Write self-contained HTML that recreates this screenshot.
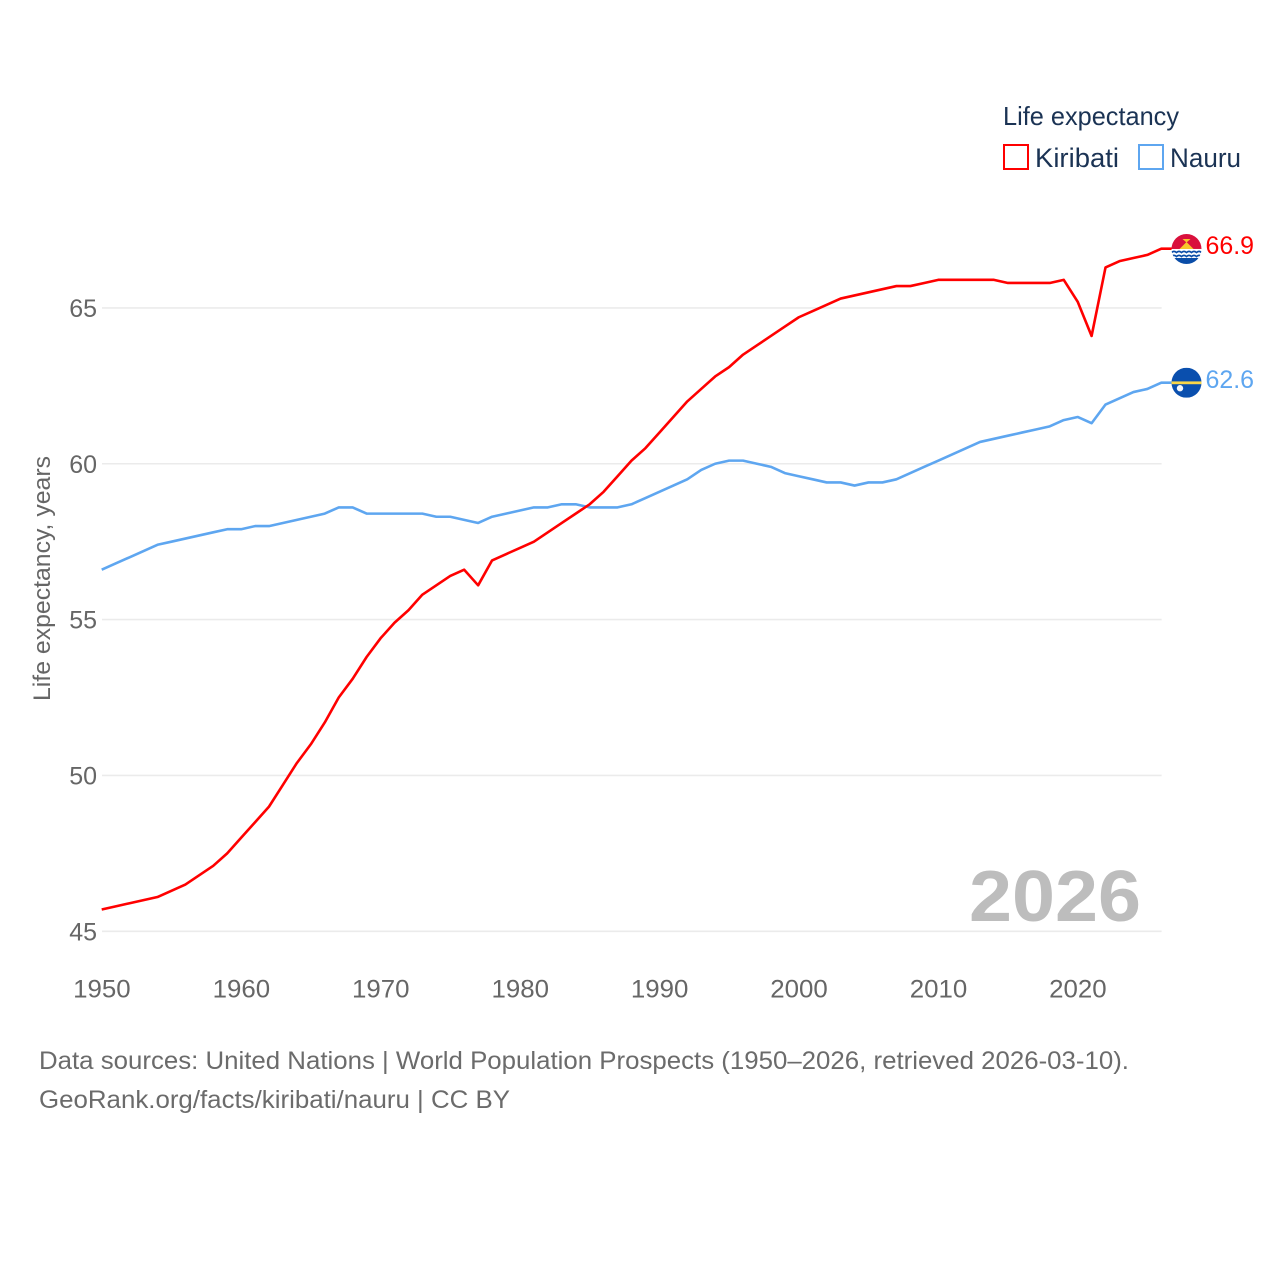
<!DOCTYPE html>
<html lang="en">
<head>
<meta charset="utf-8">
<title>Life expectancy: Kiribati and Nauru</title>
<style>
html,body{margin:0;padding:0;background:#fff;}
svg{display:block;font-family:"Liberation Sans",sans-serif;}
</style>
</head>
<body>
<svg id="chart" xmlns="http://www.w3.org/2000/svg" width="1280" height="1280" viewBox="0 0 1280 1280">
  <rect width="1280" height="1280" fill="#fff"/>
  <g id="grid"></g>
  <g id="yticks"></g>
  <g id="xticks"></g>
  <text transform="translate(50 701) rotate(-90)" font-size="24" fill="#666" textLength="245" lengthAdjust="spacingAndGlyphs">Life expectancy, years</text>
  <text x="969" y="921" font-size="72" font-weight="700" fill="#bdbdbd" textLength="172" lengthAdjust="spacingAndGlyphs">2026</text>
  <g id="series"></g>
  <g id="flag-kiribati"></g>
  <g id="flag-nauru"></g>
  <g id="endlabels"></g>
  <g>
    <text x="1003" y="125" font-size="26" fill="#1b3354" textLength="176" lengthAdjust="spacingAndGlyphs">Life expectancy</text>
    <rect x="1004" y="145" width="24" height="24" fill="#fff" stroke="#ff0000" stroke-width="2"/>
    <text x="1035" y="167" font-size="27" fill="#1b3354" textLength="84" lengthAdjust="spacingAndGlyphs">Kiribati</text>
    <rect x="1139" y="145" width="24" height="24" fill="#fff" stroke="#5ea6f0" stroke-width="2"/>
    <text x="1170" y="167" font-size="27" fill="#1b3354" textLength="71" lengthAdjust="spacingAndGlyphs">Nauru</text>
  </g>
  <g>
    <text x="39" y="1069" font-size="25" fill="#6b6b6b" textLength="1090" lengthAdjust="spacingAndGlyphs">Data sources: United Nations | World Population Prospects (1950–2026, retrieved 2026-03-10).</text>
    <text x="39" y="1108" font-size="25" fill="#6b6b6b" textLength="471" lengthAdjust="spacingAndGlyphs">GeoRank.org/facts/kiribati/nauru | CC BY</text>
  </g>
</svg>
<script>
const years = [1950,1951,1952,1953,1954,1955,1956,1957,1958,1959,1960,1961,1962,1963,1964,1965,1966,1967,1968,1969,1970,1971,1972,1973,1974,1975,1976,1977,1978,1979,1980,1981,1982,1983,1984,1985,1986,1987,1988,1989,1990,1991,1992,1993,1994,1995,1996,1997,1998,1999,2000,2001,2002,2003,2004,2005,2006,2007,2008,2009,2010,2011,2012,2013,2014,2015,2016,2017,2018,2019,2020,2021,2022,2023,2024,2025,2026];
const kiribati = [45.7,45.8,45.9,46.0,46.1,46.3,46.5,46.8,47.1,47.5,48.0,48.5,49.0,49.7,50.4,51.0,51.7,52.5,53.1,53.8,54.4,54.9,55.3,55.8,56.1,56.4,56.6,56.1,56.9,57.1,57.3,57.5,57.8,58.1,58.4,58.7,59.1,59.6,60.1,60.5,61.0,61.5,62.0,62.4,62.8,63.1,63.5,63.8,64.1,64.4,64.7,64.9,65.1,65.3,65.4,65.5,65.6,65.7,65.7,65.8,65.9,65.9,65.9,65.9,65.9,65.8,65.8,65.8,65.8,65.9,65.2,64.1,66.3,66.5,66.6,66.7,66.9];
const nauru = [56.6,56.8,57.0,57.2,57.4,57.5,57.6,57.7,57.8,57.9,57.9,58.0,58.0,58.1,58.2,58.3,58.4,58.6,58.6,58.4,58.4,58.4,58.4,58.4,58.3,58.3,58.2,58.1,58.3,58.4,58.5,58.6,58.6,58.7,58.7,58.6,58.6,58.6,58.7,58.9,59.1,59.3,59.5,59.8,60.0,60.1,60.1,60.0,59.9,59.7,59.6,59.5,59.4,59.4,59.3,59.4,59.4,59.5,59.7,59.9,60.1,60.3,60.5,60.7,60.8,60.9,61.0,61.1,61.2,61.4,61.5,61.3,61.9,62.1,62.3,62.4,62.6];
const yTickValues = [45,50,55,60,65];
const xTickValues = [1950,1960,1970,1980,1990,2000,2010,2020];

const NS = 'http://www.w3.org/2000/svg';
const xScale = v => 101.7 + (v - 1950) * (1161.3 - 101.7) / 76;
const yScale = v => 931.3 - (v - 45) * (931.3 - 307.9) / 20;
const FLAG_X = 1186.5;

function make(tag, attrs, parent) {
  const el = document.createElementNS(NS, tag);
  for (const k in attrs) el.setAttribute(k, attrs[k]);
  parent.appendChild(el);
  return el;
}

const grid = document.getElementById('grid');
const yticks = document.getElementById('yticks');
const xticks = document.getElementById('xticks');
const seriesG = document.getElementById('series');
const endLabels = document.getElementById('endlabels');

yTickValues.forEach(v => {
  const line = make('line', {x1: 102, x2: 1161.6, y1: yScale(v), y2: yScale(v), stroke: '#ebebeb', 'stroke-width': 1.6}, grid);
  
  
  const t = make('text', {x: 97, y: yScale(v) + 9, 'text-anchor': 'end', 'font-size': 25, fill: '#666'}, yticks);
  
  
  t.textContent = v;
});

xTickValues.forEach(v => {
  const t = make('text', {x: xScale(v) - 28.5, y: 997.5, 'font-size': 25, fill: '#666', textLength: 57.5, lengthAdjust: 'spacingAndGlyphs'}, xticks);
  
  
  t.textContent = v;
});

function drawSeries(values, color, name) {
  const pts = values.map((v, i) => xScale(years[i]).toFixed(2) + ',' + yScale(v).toFixed(2));
  pts.push(FLAG_X + ',' + yScale(values[values.length - 1]).toFixed(2));
  const p = make('polyline', {points: pts.join(' '), fill: 'none', stroke: color, 'stroke-width': 2.6, 'stroke-linejoin': 'round'}, seriesG);
  
  
}
drawSeries(nauru, '#5ea6f0', 'nauru-line');
drawSeries(kiribati, '#ff0000', 'kiribati-line');

function drawEndLabel(values, color, name) {
  const last = values[values.length - 1];
  const t = make('text', {x: 1205.5, y: yScale(last) + 5.5, 'font-size': 25, fill: color, textLength: 48.5, lengthAdjust: 'spacingAndGlyphs'}, endLabels);
  
  
  t.textContent = last.toFixed(1);
}
drawEndLabel(kiribati, '#ff0000', 'kiribati-end-label');
drawEndLabel(nauru, '#5ea6f0', 'nauru-end-label');

/* Kiribati flag */
(function () {
  const g = document.getElementById('flag-kiribati');
  const cy = yScale(kiribati[kiribati.length - 1]) + 0.3;
  const defs = make('defs', {}, g);
  const cp = make('clipPath', {id: 'clip-k'}, defs);
  make('circle', {cx: FLAG_X, cy: cy, r: 15}, cp);
  const c = make('g', {'clip-path': 'url(#clip-k)'}, g);
  make('rect', {x: FLAG_X - 15, y: cy - 15, width: 30, height: 15, fill: '#d9103c'}, c);
  make('rect', {x: FLAG_X - 15, y: cy, width: 30, height: 15, fill: '#fff'}, c);
  make('rect', {x: FLAG_X - 15, y: cy + 9, width: 30, height: 6, fill: '#0a4da8'}, c);
  make('path', {d: 'M' + (FLAG_X - 7) + ' ' + cy + ' L' + FLAG_X + ' ' + (cy - 7) + ' L' + (FLAG_X + 7) + ' ' + cy + 'Z', fill: '#f8c62b'}, c);
  make('path', {d: 'M' + (FLAG_X - 4) + ' ' + (cy - 10) + ' L' + (FLAG_X + 4) + ' ' + (cy - 10) + ' L' + FLAG_X + ' ' + (cy - 6.5) + 'Z', fill: '#f8c62b'}, c);
  [3.5, 7.5].forEach(off => {
    let d = 'M' + (FLAG_X - 15) + ' ' + (cy + off);
    for (let i = 0; i < 6; i++) d += ' q2.5 -2.2 5 0';
    make('path', {d: d, fill: 'none', stroke: '#0a4da8', 'stroke-width': 1.7}, c);
  });
})();

/* Nauru flag */
(function () {
  const g = document.getElementById('flag-nauru');
  const cy = yScale(nauru[nauru.length - 1]);
  const defs = make('defs', {}, g);
  const cp = make('clipPath', {id: 'clip-n'}, defs);
  make('circle', {cx: FLAG_X, cy: cy, r: 15}, cp);
  const c = make('g', {'clip-path': 'url(#clip-n)'}, g);
  make('rect', {x: FLAG_X - 15, y: cy - 15, width: 30, height: 30, fill: '#0a4fae'}, c);
  make('rect', {x: FLAG_X - 15, y: cy - 1.3, width: 30, height: 2.8, fill: '#f9d648'}, c);
  make('circle', {cx: FLAG_X - 6.5, cy: cy + 5.5, r: 3.2, fill: '#f4f6fa'}, c);
})();
</script>
</body>
</html>
